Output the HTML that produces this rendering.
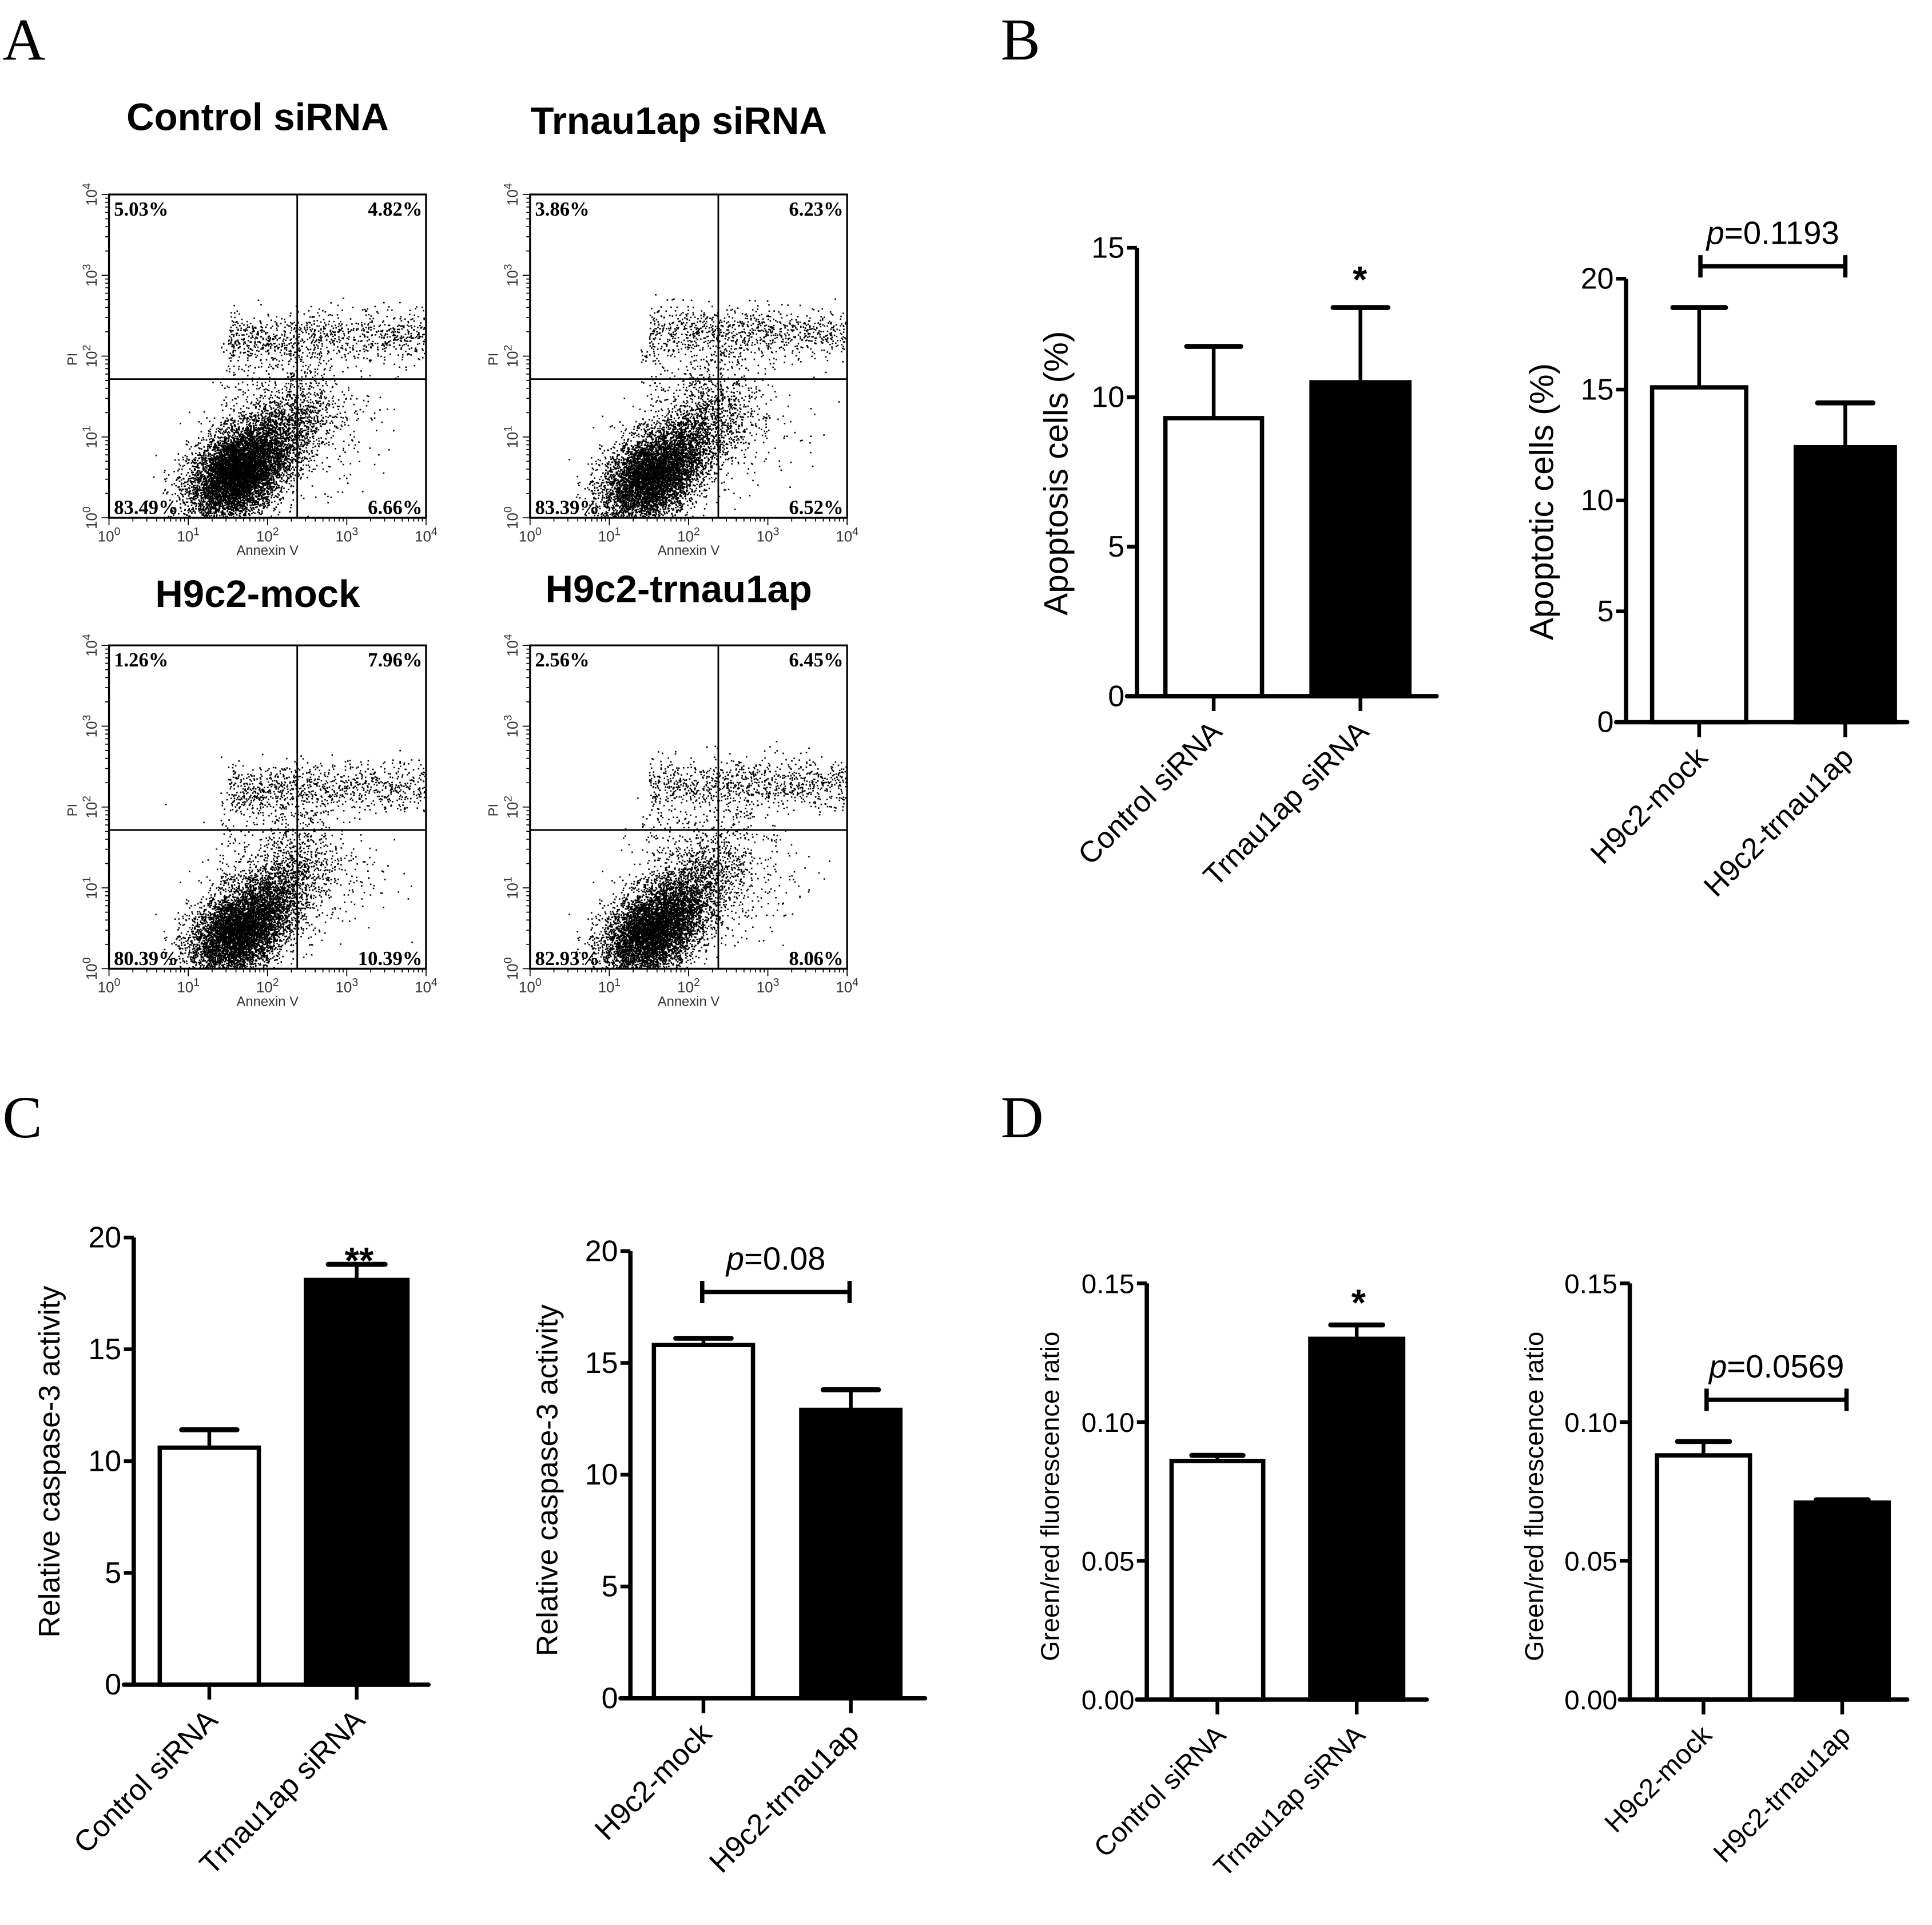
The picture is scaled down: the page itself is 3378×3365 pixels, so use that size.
<!DOCTYPE html>
<html><head><meta charset="utf-8"><style>
html,body{margin:0;padding:0;background:#fff;}
svg{display:block;font-family:"Liberation Sans",Arial,sans-serif;}
.serif{font-family:"Liberation Serif",serif;}
</style></head><body>
<svg id="fig" xmlns="http://www.w3.org/2000/svg" width="3378" height="3365" viewBox="0 0 1560 1554">
<rect width="1560" height="1554" fill="#fff"/>
<g class="serif" font-size="48" fill="#000">
<text x="2" y="48">A</text>
<text x="808" y="48">B</text>
<text x="2" y="918">C</text>
<text x="808" y="918">D</text>
</g>
<g id="flow"></g>
<g id="bars"></g>
</svg>
<script>
// ---- bar chart data ----
const catsSi = ["Control siRNA","Trnau1ap siRNA"];
const catsH9 = ["H9c2-mock","H9c2-trnau1ap"];
const apopSi = [9.3, 10.5];
const apopSiErr = [11.7, 13.0];
const apopH9 = [15.1, 12.4];
const apopH9Err = [18.7, 14.4];
const caspSi = [10.6, 18.1];
const caspSiErr = [11.4, 18.8];
const caspH9 = [15.8, 12.9];
const caspH9Err = [16.1, 13.8];
const ratioSi = [0.086, 0.130];
const ratioSiErr = [0.088, 0.135];
const ratioH9 = [0.088, 0.071];
const ratioH9Err = [0.093, 0.072];
const ticks15 = [0,5,10,15];
const ticks20 = [0,5,10,15,20];
const ticksRatio = [0,0.05,0.10,0.15];
const ticksRatioLabels = ["0.00","0.05","0.10","0.15"];
// ---- flow cytometry data ----
const flowTitles = ["Control siRNA","Trnau1ap siRNA","H9c2-mock","H9c2-trnau1ap"];
const flowUL = ["5.03%","3.86%","1.26%","2.56%"];
const flowUR = ["4.82%","6.23%","7.96%","6.45%"];
const flowLL = ["83.49%","83.39%","80.39%","82.93%"];
const flowLR = ["6.66%","6.52%","10.39%","8.06%"];
// cluster centres (log10 units): main cluster x,y ; upper band y
const mainX = [1.6, 1.5, 1.6, 1.5];
const mainY = [0.55, 0.5, 0.45, 0.45];
const bandY = [2.2, 2.25, 2.2, 2.25];

const NS="http://www.w3.org/2000/svg";
function el(tag, attrs, parent, txt){const e=document.createElementNS(NS,tag);for(const k in attrs)e.setAttribute(k,attrs[k]);if(txt!==undefined)e.textContent=txt;parent.appendChild(e);return e;}

// ---------- flow plots ----------
const flowG=document.getElementById('flow');
const boxes=[[88,157],[428,157],[88,521],[428,521]];
const titleY=[105,108,490,486];
const BW=256,BH=261;
let seed=12345;
function rnd(){seed=(seed*1103515245+12345)%2147483648;return seed/2147483648;}
function gauss(){let u=rnd()||1e-6,v=rnd();return Math.sqrt(-2*Math.log(u))*Math.cos(2*Math.PI*v);}
boxes.forEach((b,i)=>{
  const [x0,y0]=b;
  const g=el('g',{},flowG);
  
  
  const sx=v=>x0+v/4*BW, sy=v=>y0+BH-v/4*BH;
  const t=el('text',{x:x0+120,y:titleY[i],'text-anchor':'middle','font-size':31,'font-weight':'bold'},g,flowTitles[i]);
  
  
  let d='';
  const pt=(lx,ly)=>{if(lx<0.02||lx>3.98||ly<0.02||ly>3.98)return;d+='M'+sx(lx).toFixed(1)+' '+sy(ly).toFixed(1)+'h1.2v1.2h-1.2z';};
  for(let k=0;k<6500;k++){const a=gauss(),c=gauss();pt(mainX[i]+0.3*a,mainY[i]+0.1*a+0.27*c);}
  for(let k=0;k<1500;k++){const a=gauss(),c=gauss();pt(mainX[i]+0.5+0.3*a,mainY[i]+0.4+0.2*a+0.3*c);}
  for(let k=0;k<900;k++){pt(1.5+rnd()*2.5,bandY[i]+0.15*gauss()+0.1*rnd());}
  for(let k=0;k<450;k++){const a=gauss(),c=gauss();pt(2.4+0.5*a,1.2+0.4*c);}
  for(let k=0;k<300;k++){pt(1.4+rnd()*1.4,0.9+rnd()*1.3);}
  const p=el('path',{d:d,fill:'#000'},g);
  
  
  const r=el('rect',{x:x0,y:y0,width:BW,height:BH,fill:'none',stroke:'#000','stroke-width':1.5},g);
  
  
  const qx=x0+152,qy=y0+149;
  const q1=el('line',{x1:qx,y1:y0,x2:qx,y2:y0+BH,stroke:'#000','stroke-width':1.3},g);
  
  
  const q2=el('line',{x1:x0,y1:qy,x2:x0+BW,y2:qy,stroke:'#000','stroke-width':1.3},g);
  
  
  const ps=[[flowUL[i],x0+4,y0+17,'start'],[flowUR[i],x0+BW-3,y0+17,'end'],[flowLL[i],x0+4,y0+BH-3,'start'],[flowLR[i],x0+BW-3,y0+BH-3,'end']];
  ps.forEach(q=>{const tt=el('text',{x:q[1],y:q[2],'text-anchor':q[3],'font-size':16,'font-weight':'bold',class:'serif'},g,q[0]);
    
    });
  for(let dcd=0;dcd<=4;dcd++){
    for(let m=1;m<10;m++){
      const v=dcd+Math.log10(m); if(v>4)break;
      const L=m==1?6:3;
      el('line',{x1:sx(v),y1:y0+BH,x2:sx(v),y2:y0+BH+L,stroke:'#000','stroke-width':0.8},g);
      el('line',{x1:x0,y1:sy(v),x2:x0-L,y2:sy(v),stroke:'#000','stroke-width':0.8},g);
    }
    const xl=el('text',{x:sx(dcd),y:y0+BH+19,'text-anchor':'middle','font-size':12,fill:'#333'},g);
    
    
    el('tspan',{},xl,'10');el('tspan',{dy:-5,'font-size':9},xl,String(dcd));
    const yl=el('text',{x:0,y:0,'text-anchor':'middle','font-size':12,fill:'#333',transform:`translate(${x0-10},${sy(dcd)}) rotate(-90)`},g);
    
    
    el('tspan',{},yl,'10');el('tspan',{dy:-5,'font-size':9},yl,String(dcd));
  }
  const ax=el('text',{x:x0+BW/2,y:y0+BH+30,'text-anchor':'middle','font-size':11,fill:'#333'},g,'Annexin V');
  
  
  const ay=el('text',{x:0,y:0,'text-anchor':'middle','font-size':11,fill:'#333',transform:`translate(${x0-26},${y0+133}) rotate(-90)`},g,'PI');
  
  
});

// ---------- bar charts ----------
const barsG=document.getElementById('bars');
function barChart(o){
  const g=el('g',{},barsG);
  
  
  const ys=v=>o.y0-(v/o.max)*(o.y0-o.yTop);
  o.vals.forEach((v,i)=>{
    const [bx1,bx2]=o.bx[i]; const cx=(bx1+bx2)/2;
    const e=el('line',{x1:cx,y1:ys(v),x2:cx,y2:ys(o.err[i]),stroke:'#000','stroke-width':3},g);
    
    
    el('line',{x1:cx-(bx2-bx1)*0.28,y1:ys(o.err[i]),x2:cx+(bx2-bx1)*0.28,y2:ys(o.err[i]),stroke:'#000','stroke-width':4,'stroke-linecap':'round'},g);
    const r=el('rect',{x:bx1,y:ys(v),width:bx2-bx1,height:o.y0-ys(v),fill:i?'#000':'#fff',stroke:'#000','stroke-width':3.5},g);
    
    
    el('line',{x1:cx,y1:o.y0,x2:cx,y2:o.y0+12,stroke:'#000','stroke-width':3},g);
    const lt=el('text',{x:0,y:0,'text-anchor':'end','font-size':o.fs,transform:`translate(${cx+8},${o.y0+30}) rotate(-45)`},g,o.cats[i]);
    
    
  });
  const ya=el('line',{x1:o.ax,y1:o.yTop,x2:o.ax,y2:o.y0,stroke:'#000','stroke-width':3.5},g);
  
  
  const xa=el('line',{x1:o.ax-8,y1:o.y0,x2:o.xEnd,y2:o.y0,stroke:'#000','stroke-width':3.5,'stroke-linecap':'round'},g);
  
  
  o.ticks.forEach((t,i)=>{
    el('line',{x1:o.ax-8,y1:ys(t),x2:o.ax,y2:ys(t),stroke:'#000','stroke-width':3},g);
    const tl=el('text',{x:o.ax-10,y:ys(t)+8,'text-anchor':'end','font-size':o.tfs},g,o.tickLabels?o.tickLabels[i]:String(t));
    
    
  });
  const yt=el('text',{x:0,y:0,'text-anchor':'middle','font-size':o.yfs,'xml:space':'preserve',transform:`translate(${o.ylx},${o.yly}) rotate(-90)`},g,o.ylabel);
  
  
  if(o.star){const s=el('text',{x:o.star[0],y:o.star[1],'text-anchor':'middle','font-size':30,'font-weight':'bold'},g,o.star[2]);
    
    }
  if(o.p){
    const [x1,x2,by,txt]=o.p;
    const br=el('path',{d:`M${x1} ${by-9}V${by+9}M${x1} ${by}H${x2}M${x2} ${by-9}V${by+9}`,stroke:'#000','stroke-width':3.5,fill:'none'},g);
    
    
    const pt=el('text',{x:(x1+x2)/2,y:by-18,'text-anchor':'middle','font-size':26},g);
    
    
    el('tspan',{'font-style':'italic'},pt,'p');el('tspan',{},pt,'='+txt);
  }
}
barChart({name:'chart-b-apoptosis-sirna',cats:catsSi,vals:apopSi,err:apopSiErr,max:15,ticks:ticks15,ax:918,yTop:200,y0:562,xEnd:1160,bx:[[941,1019],[1059,1138]],fs:24,tfs:24,yfs:27,ylabel:'Apoptosis cells (%)',ylx:862,yly:382,star:[1098,236,'*']});
barChart({name:'chart-b-apoptotic-h9c2',cats:catsH9,vals:apopH9,err:apopH9Err,max:20,ticks:ticks20,ax:1313,yTop:225,y0:583,xEnd:1540,bx:[[1334,1410],[1450,1530]],fs:24,tfs:24,yfs:27,ylabel:'Apoptotic cells (%)',ylx:1254,yly:405,p:[1373,1490,215,'0.1193']});
barChart({name:'chart-c-caspase-sirna',cats:catsSi,vals:caspSi,err:caspSiErr,max:20,ticks:ticks20,ax:108,yTop:999,y0:1360,xEnd:346,bx:[[129,209],[247,329]],fs:24,tfs:24,yfs:24,ylabel:'Relative  caspase-3  activity',ylx:48,yly:1180,star:[290,1028,'**']});
barChart({name:'chart-c-caspase-h9c2',cats:catsH9,vals:caspH9,err:caspH9Err,max:20,ticks:ticks20,ax:509,yTop:1010,y0:1371,xEnd:747,bx:[[528,608],[647,727]],fs:24,tfs:24,yfs:24,ylabel:'Relative  caspase-3  activity',ylx:450,yly:1195,p:[567,686,1043,'0.08']});
barChart({name:'chart-d-ratio-sirna',cats:catsSi,vals:ratioSi,err:ratioSiErr,max:0.15,ticks:ticksRatio,tickLabels:ticksRatioLabels,ax:926,yTop:1036,y0:1372,xEnd:1152,bx:[[946,1020],[1058,1133]],fs:22,tfs:22,yfs:21,ylabel:'Green/red fluorescence ratio',ylx:855,yly:1208,star:[1097,1062,'*']});
barChart({name:'chart-d-ratio-h9c2',cats:catsH9,vals:ratioH9,err:ratioH9Err,max:0.15,ticks:ticksRatio,tickLabels:ticksRatioLabels,ax:1316,yTop:1036,y0:1372,xEnd:1540,bx:[[1338,1413],[1450,1525]],fs:22,tfs:22,yfs:21,ylabel:'Green/red fluorescence ratio',ylx:1246,yly:1208,p:[1378,1491,1130,'0.0569']});
</script>
</body></html>
